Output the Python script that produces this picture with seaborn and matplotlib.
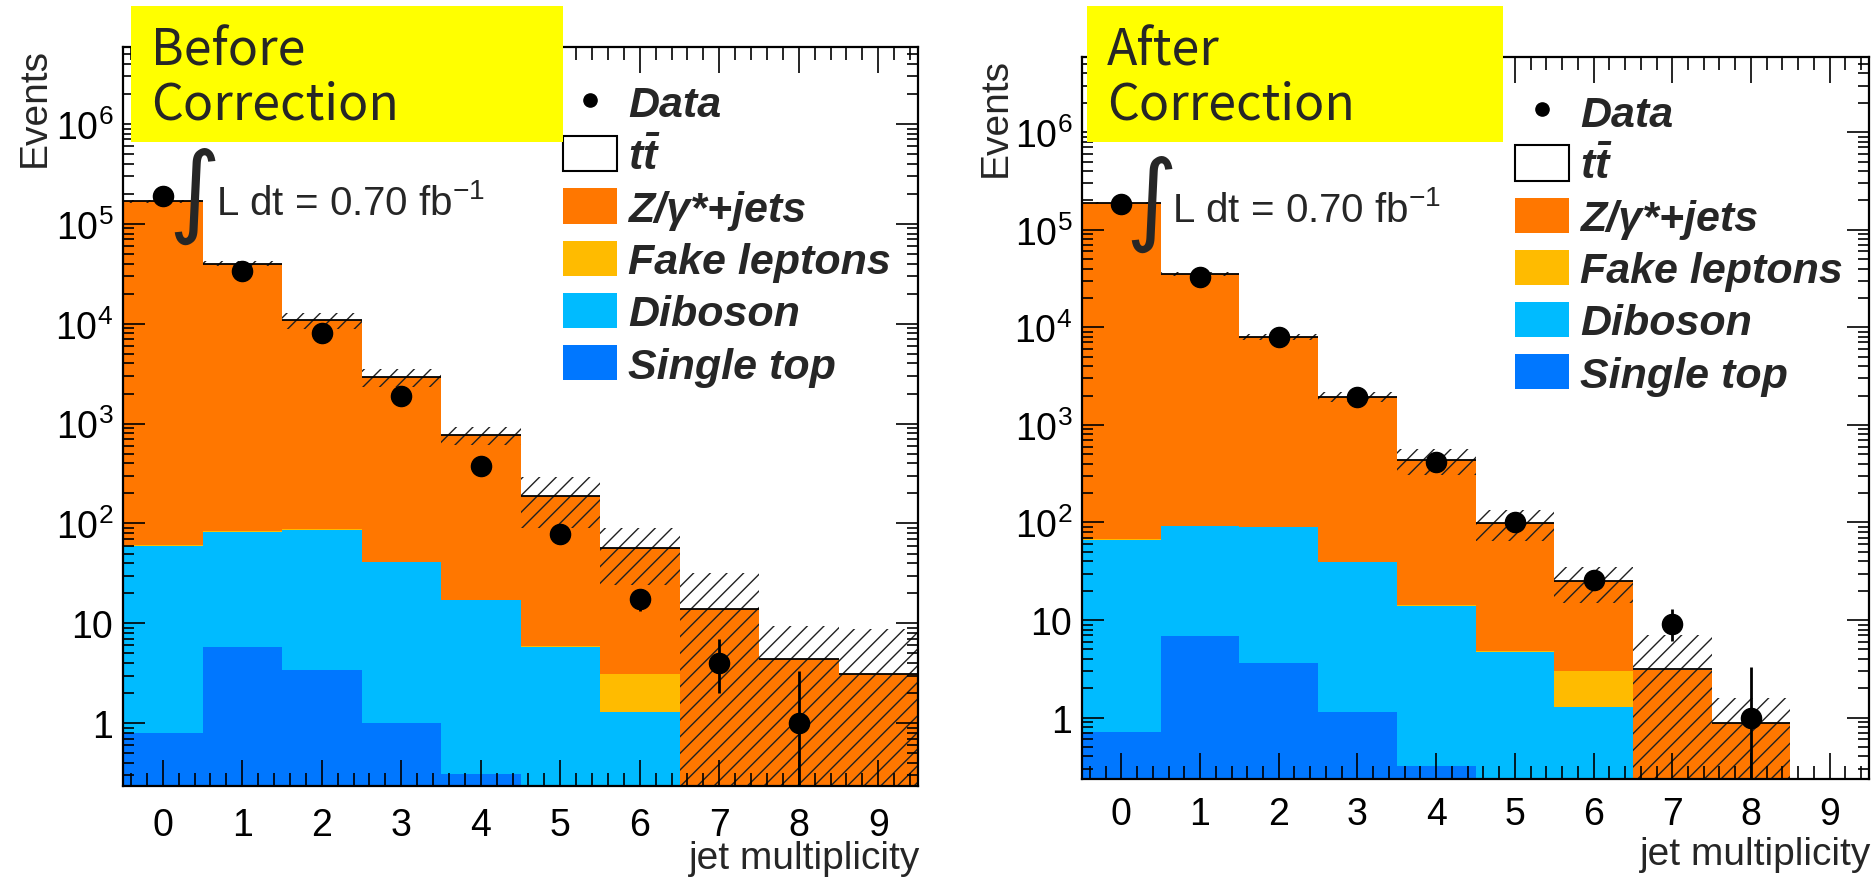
import numpy as np
import pandas as pd
import matplotlib
matplotlib.use("Agg")
import matplotlib.pyplot as plt
import seaborn as sns
from matplotlib.patches import Patch, Rectangle
from matplotlib.lines import Line2D
from matplotlib.ticker import MultipleLocator, FixedLocator, FuncFormatter, NullFormatter

# ---------------- data ----------------
jet_bins = [0, 1, 2, 3, 4, 5, 6, 7, 8, 9]
samples = ["ttbar", "zjets", "fake", "diboson", "single_top"]
sample_labels = [r"$\mathbfit{t\bar{t}}$", "Z/γ*+jets", "Fake leptons", "Diboson", "Single top"]
y_decades = [1, 10, 100, 1e3, 1e4, 1e5, 1e6]

# Before correction
single_top_before = [0.79, 5.8, 3.4, 1.0, 0.31, 0, 0, 0, 0, 0]
diboson_before = [59, 77, 83, 40, 16.7, 5.8, 1.3, 0, 0, 0]
fake_before = [0.5, 0.5, 1.5, 0.3, 0.2, 0.1, 1.8, 0, 0, 0]
zjets_before = [1.68e5, 4.0e4, 1.07e4, 2.9e3, 750, 184, 54, 14, 4.4, 3.1]
ttbar_before = [0.05, 0.2, 0.5, 0.6, 0.4, 0.2, 0.1, 0.05, 0.0, 0.0]
band_before = [5e3, 2.5e3, 1.9e3, 600, 160, 100, 33, 18, 5.0, 5.7]
data_before = [1.89e5, 3.4e4, 8.0e3, 1.9e3, 380, 79, 17.5, 4.0, 1.0, np.nan]
data_err_lo_before = [435, 184, 89, 44, 19.5, 8.9, 4.2, 2.0, 0.83, np.nan]
data_err_hi_before = [435, 184, 89, 44, 19.5, 8.9, 4.2, 2.9, 2.3, np.nan]

# After correction
single_top_after = [0.72, 6.9, 3.6, 1.15, 0.32, 0, 0, 0, 0, 0]
diboson_after = [65, 85, 86, 38, 13.7, 4.7, 1.3, 0, 0, 0]
fake_after = [1.5, 1.2, 0.5, 0.3, 0.2, 0.1, 1.7, 0, 0, 0]
zjets_after = [1.87e5, 3.5e4, 7.9e3, 1.89e3, 422, 94, 22, 3.1, 0.89, 0]
ttbar_after = [0.05, 0.2, 0.5, 0.6, 0.4, 0.2, 0.1, 0.05, 0.0, 0.0]
band_after = [4e3, 1.5e3, 600, 230, 130, 35, 10, 3.8, 0.7, 0]
data_after = [1.83e5, 3.3e4, 7.9e3, 1.93e3, 417, 100, 26, 9.2, 1.0, np.nan]
data_err_lo_after = [428, 182, 89, 44, 20.4, 10, 5.1, 3.1, 0.83, np.nan]
data_err_hi_after = [428, 182, 89, 44, 20.4, 10, 5.1, 3.8, 2.3, np.nan]

panel_titles = [("Before", "Correction"), ("After", "Correction")]
lumi_text = r"L dt = 0.70 fb$^{-1}$"

# ---------------- style ----------------
sns.set_theme(style="ticks")
plt.rcParams.update({
    "font.family": ["Liberation Sans", "DejaVu Sans"],
    "mathtext.fontset": "custom",
    "mathtext.rm": "Liberation Sans",
    "mathtext.it": "Liberation Sans:italic",
    "mathtext.bf": "Liberation Sans:bold",
    "hatch.linewidth": 1.0,
    "axes.linewidth": 1.6,
    "axes.edgecolor": "black",
    "axes.axisbelow": False,
})
try:
    plt.rcParams["mathtext.bfit"] = "Liberation Sans:bold:italic"
except Exception:
    pass

palette = {"ttbar": "#ffffff", "zjets": "#ff7700", "fake": "#ffbb00",
           "diboson": "#00bbff", "single_top": "#0077ff"}

W, H = 1873, 879
fig = plt.figure(figsize=(W / 100, H / 100), dpi=100)


def fx(px):
    return px / W


def fy(py):
    return 1 - py / H


axL = fig.add_axes([fx(123), fy(787), (918 - 123) / W, (787 - 48) / H])
axR = fig.add_axes([fx(1082), fy(780), (1869 - 1082) / W, (780 - 58) / H])


def decade_fmt(v, pos):
    if v <= 0:
        return ""
    e = int(round(np.log10(v)))
    if e == 0:
        return "1"
    if e == 1:
        return "10"
    return r"$10^{%d}$" % e


def draw_panel(ax, comps, band, data, elo, ehi, leg_anchor, ylabel_x, xlabel_y, xpad):
    df = pd.DataFrame({
        "jets": np.tile(jet_bins, len(samples)),
        "events": np.concatenate([comps[s] for s in samples]),
        "sample": np.repeat(samples, len(jet_bins)),
    })
    sns.histplot(data=df, x="jets", weights="events", hue="sample", hue_order=samples,
                 multiple="stack", discrete=True, palette=palette, alpha=1,
                 linewidth=0, legend=False, ax=ax, zorder=1)
    x = np.array(jet_bins, dtype=float)
    total = np.sum([np.array(comps[s], dtype=float) for s in samples], axis=0)
    band = np.array(band, dtype=float)
    lower = np.clip(total - band, 1e-3, None)
    upper = total + band
    m = total > 0
    ax.bar(x[m], (upper - lower)[m], bottom=lower[m], width=1.0, fill=False,
           hatch="//", edgecolor="#202020", linewidth=0, zorder=2)
    ax.hlines(total[m], x[m] - 0.5, x[m] + 0.5, colors="black", lw=1.3, zorder=3)
    ax.errorbar(x, data, yerr=[elo, ehi], fmt="o", ms=14.5, color="black",
                elinewidth=2, capsize=0, zorder=5)

    ax.set_axisbelow(False)
    ax.set_yscale("log")
    ax.set_ylim(0.235, 5.9e6)
    ax.set_xlim(-0.5, 9.5)
    ax.xaxis.set_major_locator(FixedLocator(jet_bins))
    ax.xaxis.set_minor_locator(MultipleLocator(0.2))
    ax.yaxis.set_major_locator(FixedLocator(y_decades))
    minor = [m_ * d for d in [0.1] + y_decades for m_ in range(2, 10)]
    minor = [v for v in minor if 0.235 <= v <= 5.9e6]
    ax.yaxis.set_minor_locator(FixedLocator(minor))
    ax.yaxis.set_major_formatter(FuncFormatter(decade_fmt))
    ax.yaxis.set_minor_formatter(NullFormatter())
    ax.tick_params(which="both", direction="in", top=True, right=True, width=1.2, colors="black")
    ax.tick_params(axis="x", which="major", length=19, labelsize=27, pad=xpad)
    ax.tick_params(axis="x", which="minor", length=9.5)
    ax.tick_params(axis="y", which="major", length=16, labelsize=27, pad=7)
    ax.tick_params(axis="y", which="minor", length=8)
    ax.set_xlabel("jet multiplicity", fontsize=28, loc="right")
    ax.xaxis.set_label_coords(1.003, xlabel_y)
    ax.xaxis.label.set_verticalalignment("baseline")
    ax.set_ylabel("Events", fontsize=28, loc="top")
    ax.yaxis.set_label_coords(ylabel_x, 1.0)
    for sp in ax.spines.values():
        sp.set_linewidth(1.6)
        sp.set_color("black")
        sp.set_zorder(6)

    handles = [Line2D([], [], marker="o", color="black", ls="none", ms=9.5)]
    handles.append(Patch(facecolor="white", edgecolor="black", linewidth=1.5))
    for s in samples[1:]:
        handles.append(Patch(facecolor=palette[s], edgecolor="none"))
    labels = ["Data"] + sample_labels
    ax.legend(handles, labels, loc="upper left", bbox_to_anchor=leg_anchor,
              frameon=False, borderpad=0, borderaxespad=0, handlelength=1.25,
              handleheight=0.88, handletextpad=0.26, labelspacing=0.25,
              prop={"family": "Liberation Sans", "weight": "bold",
                    "style": "italic", "size": 31})


draw_panel(axL,
           {"ttbar": ttbar_before, "zjets": zjets_before, "fake": fake_before,
            "diboson": diboson_before, "single_top": single_top_before},
           band_before, data_before, data_err_lo_before, data_err_hi_before,
           (0.5535, 0.950), -0.088, -0.111, 15)
draw_panel(axR,
           {"ttbar": ttbar_after, "zjets": zjets_after, "fake": fake_after,
            "diboson": diboson_after, "single_top": single_top_after},
           band_after, data_after, data_err_lo_after, data_err_hi_after,
           (0.550, 0.950), -0.0864, -0.1177, 12)

# luminosity labels
for (ix, iy, tx, ty) in [(194, 196, 216, 215), (1151, 204, 1172, 222)]:
    fig.text(fx(ix), fy(iy), "∫", fontsize=72, family="DejaVu Sans", ha="center",
             va="center", zorder=8)
    fig.text(fx(tx), fy(ty), lumi_text, fontsize=29, va="baseline", zorder=8)

# yellow title boxes
for (bx0, bx1, tx), (l1, l2) in zip([(131, 563, 151), (1087, 1503, 1107)], panel_titles):
    fig.patches.append(Rectangle((fx(bx0), fy(143)), (bx1 - bx0) / W, (143 - 7) / H,
                                 transform=fig.transFigure, facecolor="#ffff00",
                                 edgecolor="none", zorder=10))
    fig.text(fx(tx), fy(65), l1, fontsize=36, family=["Noto Sans CJK JP", "DejaVu Sans"],
             va="baseline", zorder=11)
    fig.text(fx(tx), fy(120), l2, fontsize=36, family=["Noto Sans CJK JP", "DejaVu Sans"],
             va="baseline", zorder=11)

fig.savefig("out.png", dpi=100)
